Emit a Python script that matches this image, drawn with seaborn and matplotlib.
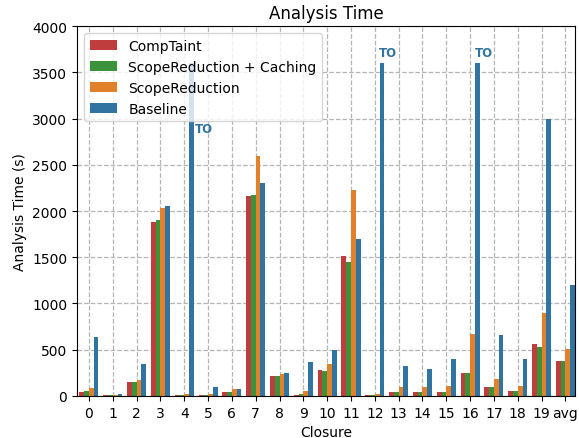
import pandas as pd
import seaborn as sns
import matplotlib.pyplot as plt

closures = [str(i) for i in range(20)] + ['avg']
comptaint = [47, 5, 145, 1884, 12, 12, 47, 2160, 220, 12, 275, 1510, 12, 43, 43, 43, 243, 100, 57, 558, 373]
scope_caching = [57, 5, 145, 1906, 12, 12, 47, 2173, 220, 25, 265, 1445, 8, 43, 43, 43, 243, 100, 57, 525, 373]
scope_red = [90, 5, 167, 2036, 25, 25, 70, 2595, 232, 57, 340, 2224, 20, 100, 100, 112, 667, 178, 112, 895, 503]
baseline = [634, 25, 350, 2057, 3600, 100, 70, 2300, 243, 362, 497, 1694, 3600, 320, 286, 396, 3600, 655, 396, 3000, 1200]
timeouts = ['4', '12', '16']

methods = ['CompTaint', 'ScopeReduction + Caching', 'ScopeReduction', 'Baseline']
colors = ['tab:red', 'tab:green', 'tab:orange', 'tab:blue']

# long format for seaborn
rows = []
for name, vals in zip(methods, [comptaint, scope_caching, scope_red, baseline]):
    for c, v in zip(closures, vals):
        rows.append({'Closure': c, 'Method': name, 'Time': v})
data = pd.DataFrame(rows)

plt.figure(figsize=(5.79, 4.39), dpi=100)
ax = sns.barplot(data=data, x='Closure', y='Time', hue='Method', order=closures,
                 hue_order=methods, palette=colors)
ax.set_axisbelow(True)
ax.grid(True, linestyle='--', color='#b5b5b5', linewidth=0.9)
ax.set_ylim(0, 4000)
ax.set_xlim(-0.5, 20.4)
ax.set_title("Analysis Time", fontsize=12)
ax.set_xlabel("Closure")
ax.set_ylabel("Analysis Time (s)")
ax.legend(loc='upper left')

# timeout markers
blue = sns.desaturate('tab:blue', 0.75)
for t in timeouts:
    i = closures.index(t)
    if t == '4':
        ax.text(i + 0.45, 2890, 'TO', color=blue, fontsize=8.5, fontweight='bold', ha='left', va='center')
    else:
        ax.text(i + 0.18, 3640, 'TO', color=blue, fontsize=8.5, fontweight='bold', ha='left', va='bottom')

plt.subplots_adjust(left=0.133, right=0.993, bottom=0.096, top=0.938)
plt.savefig('out.png', dpi=100)
